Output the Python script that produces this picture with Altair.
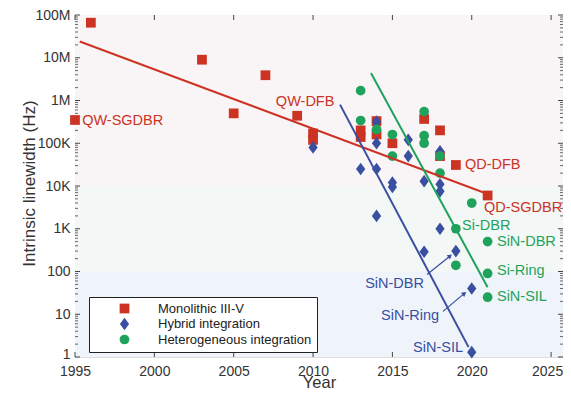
import altair as alt
import pandas as pd

# ---------------- data ----------------
groups = ["Monolithic III-V", "Hybrid integration", "Heterogeneous integration"]

red_years = [1995, 1996, 2003, 2005, 2007, 2009, 2010, 2010, 2013, 2013, 2014, 2014, 2015, 2017, 2018, 2018, 2019, 2021]
red_vals = [3.5e5, 6.6e7, 9e6, 5e5, 3.9e6, 4.4e5, 1.7e5, 1.2e5, 2e5, 1.4e5, 3.3e5, 1.6e5, 1e5, 3.7e5, 2e5, 5e4, 3.1e4, 6e3]

blue_years = [2010, 2013, 2014, 2014, 2014, 2014, 2015, 2015, 2016, 2016, 2017, 2017, 2018, 2018, 2018, 2018, 2019, 2020, 2020]
blue_vals = [8e4, 2.5e4, 3.2e5, 1e5, 2.5e4, 2e3, 1.2e4, 9.5e3, 1.2e5, 5e4, 1.3e4, 290, 6.5e4, 1.1e4, 7.5e3, 1e3, 300, 40, 1.3]

green_years = [2013, 2013, 2014, 2015, 2015, 2017, 2017, 2017, 2018, 2018, 2019, 2019, 2020, 2021, 2021, 2021]
green_vals = [1.7e6, 3.4e5, 2.1e5, 1.6e5, 5e4, 5.5e5, 1.5e5, 1e5, 5e4, 2e4, 1e3, 140, 4e3, 500, 90, 25]

# trend lines (start, end)
red_trend_years = [1995.3, 2021]
red_trend_vals = [2.4e7, 6.5e3]
blue_trend_years = [2011.7, 2019.8]
blue_trend_vals = [8e5, 1.7]
green_trend_years = [2013.65, 2021]
green_trend_vals = [4.4e6, 43]

# annotations
left_labels = ["QW-SGDBR", "QD-DFB", "QD-SGDBR", "Si-DBR", "SiN-DBR", "Si-Ring", "SiN-SIL"]
left_years = [1995.45, 2019.57, 2020.77, 2019.39, 2021.59, 2021.59, 2021.59]
left_vals = [3.4e5, 3.1e4, 3e3, 1.15e3, 490, 105, 26]
left_group = [0, 0, 0, 2, 2, 2, 2]

center_labels = ["QW-DFB"]
center_years = [2009.5]
center_vals = [9.3e5]
center_group = [0]

right_labels = ["SiN-DBR", "SiN-Ring", "SiN-SIL"]
right_years = [2016.99, 2017.94, 2019.45]
right_vals = [52, 9.1, 1.66]
right_group = [1, 1, 1]

arrow_start_years = [2017.18, 2018.19]
arrow_start_vals = [85, 11.7]
arrow_end_years = [2018.6, 2019.5]
arrow_end_vals = [225, 30]

band_lo = [1e4, 100, 1]
band_hi = [1e8, 1e4, 100]

x_ticks = [1995, 2000, 2005, 2010, 2015, 2020, 2025]
y_major = [10.0 ** k for k in range(0, 9)]
y_minor = [m * 10.0 ** k for k in range(0, 8) for m in range(2, 10)]

# ---------------- style ----------------
colors = ["#cc3322", "#3a4fa0", "#1fa35c"]
band_colors = ["#f9f5f7", "#f3f7f6", "#eef4fa"]
diamond = "M0,-1.3L0.95,0L0,1.3L-0.95,0Z"
shapes = ["square", diamond, "circle"]
W, H = 488, 342
X_MAX = 2025.75
FONT = "Liberation Sans"
TXT = "#333333"

xscale = alt.Scale(domain=[1995, X_MAX], nice=False, zero=False)
yscale = alt.Scale(type="log", domain=[1, 1e8], nice=False)

xaxis = alt.Axis(values=x_ticks, format="d", tickSize=0, domain=False, grid=False,
                 labelFlush=False, labelPadding=7, labelFontSize=14, labelColor=TXT, labelFont=FONT,
                 labelOffset={"condition": {"test": "datum.value == 2025", "value": -4}, "value": 0},
                 title="Year", titleFontSize=16.5, titleFontWeight="normal", titleColor=TXT,
                 titleFont=FONT, titleBaseline="alphabetic", titleY=30, titleX=W / 2)
yaxis = alt.Axis(values=y_major, tickSize=0, domain=False, grid=False, labelFlush=False,
                 labelExpr="datum.value >= 1e6 ? format(datum.value/1e6,'d')+'M' : datum.value >= 1e3 ? format(datum.value/1e3,'d')+'K' : format(datum.value,'d')",
                 labelOffset={"condition": {"test": "datum.value == 1", "value": -3}, "value": 0},
                 labelPadding=5, labelFontSize=14, labelColor=TXT, labelFont=FONT,
                 title="Intrinsic linewidth (Hz)", titleFontSize=17, titleFontWeight="normal",
                 titleColor=TXT, titleFont=FONT, titleX=-37, titleY=H / 2 - 3)

def X(field):
    return alt.X(field, type="quantitative", scale=xscale, axis=xaxis)

def Y(field):
    return alt.Y(field, type="quantitative", scale=yscale, axis=yaxis)

# ---------------- tables ----------------
bands = pd.DataFrame({"x0": [1995] * 3, "x1": [X_MAX] * 3, "lo": band_lo, "hi": band_hi, "fill": band_colors})

pts = pd.DataFrame({
    "year": red_years + blue_years + green_years,
    "val": red_vals + blue_vals + green_vals,
    "group": [groups[0]] * len(red_years) + [groups[1]] * len(blue_years) + [groups[2]] * len(green_years),
})
pts["order"] = range(len(pts))

trend = pd.DataFrame({
    "year": red_trend_years + blue_trend_years + green_trend_years,
    "val": red_trend_vals + blue_trend_vals + green_trend_vals,
    "line": ["r", "r", "b", "b", "g", "g"],
    "col": [colors[0]] * 2 + [colors[1]] * 2 + [colors[2]] * 2,
})

def labels_df(labels, years, vals, grp):
    return pd.DataFrame({"label": labels, "year": years, "val": vals, "col": [colors[g] for g in grp]})

arrows = pd.DataFrame({"x0": arrow_start_years, "y0": arrow_start_vals, "x1": arrow_end_years, "y1": arrow_end_vals})

# ---------------- layers ----------------
bg = alt.Chart(bands).mark_rect().encode(
    x=X("x0"), x2="x1", y=Y("lo"), y2="hi", color=alt.Color("fill:N", scale=None))

lines = alt.Chart(trend).mark_line(strokeWidth=2).encode(
    x=X("year"), y=Y("val"), detail="line:N", color=alt.Color("col:N", scale=None))

points = alt.Chart(pts).mark_point(filled=True, opacity=1, size=95, strokeWidth=0).encode(
    x=X("year"), y=Y("val"),
    order="order:Q",
    color=alt.Color("group:N", scale=alt.Scale(domain=groups, range=colors),
                    legend=alt.Legend(orient="none", legendX=14, legendY=282, title=None,
                                      fillColor="white", strokeColor="#222222", padding=5,
                                      labelFontSize=13, labelFont=FONT, labelColor="#222222",
                                      symbolSize=95, symbolOffset=24, labelOffset=27,
                                      rowPadding=1.5, symbolStrokeWidth=0)),
    shape=alt.Shape("group:N", scale=alt.Scale(domain=groups, range=shapes)),
)

def text_layer(df, align):
    return alt.Chart(df).mark_text(align=align, baseline="middle", font=FONT, fontSize=14.5).encode(
        x=X("year"), y=Y("val"), text="label:N", color=alt.Color("col:N", scale=None))

t_left = text_layer(labels_df(left_labels, left_years, left_vals, left_group), "left")
t_center = text_layer(labels_df(center_labels, center_years, center_vals, center_group), "center")
t_right = text_layer(labels_df(right_labels, right_years, right_vals, right_group), "right")

arrow_lines = alt.Chart(arrows).mark_rule(color=colors[1], strokeWidth=1.2).encode(
    x=X("x0"), y=Y("y0"), x2="x1", y2="y1")
arrow_heads = alt.Chart(arrows).mark_point(shape="triangle", filled=True, size=28, angle=52,
                                           color=colors[1], opacity=1, strokeWidth=0).encode(
    x=X("x1"), y=Y("y1"))

# inward ticks
ymaj = pd.DataFrame({"v": y_major})
ymin = pd.DataFrame({"v": y_minor})
xt = pd.DataFrame({"v": x_ticks})
TC = "#444444"
tk_lmaj = alt.Chart(ymaj).mark_rule(color=TC, strokeWidth=1).encode(x=alt.value(0), x2=alt.value(5), y=Y("v"))
tk_lmin = alt.Chart(ymin).mark_rule(color=TC, strokeWidth=0.8).encode(x=alt.value(0), x2=alt.value(3), y=Y("v"))
tk_rmaj = alt.Chart(ymaj).mark_rule(color=TC, strokeWidth=1).encode(x=alt.value(W - 5), x2=alt.value(W), y=Y("v"))
tk_rmin = alt.Chart(ymin).mark_rule(color=TC, strokeWidth=0.8).encode(x=alt.value(W - 3), x2=alt.value(W), y=Y("v"))
tk_b = alt.Chart(xt).mark_rule(color=TC, strokeWidth=1).encode(x=X("v"), y=alt.value(H - 5), y2=alt.value(H))
tk_t = alt.Chart(xt).mark_rule(color=TC, strokeWidth=1).encode(x=X("v"), y=alt.value(0), y2=alt.value(5))

chart = alt.layer(
    bg, tk_lmaj, tk_lmin, tk_rmaj, tk_rmin, tk_b, tk_t,
    arrow_lines, arrow_heads, points, lines, t_left, t_center, t_right,
).properties(
    width=W, height=H,
    padding={"left": 67, "top": 7, "right": 0, "bottom": 32},
    autosize=alt.AutoSizeParams(type="none"),
).configure_view(stroke="#333333", strokeWidth=1.2).configure(font=FONT)

chart.save("out.html", embed_options={"renderer": "svg", "actions": False})
